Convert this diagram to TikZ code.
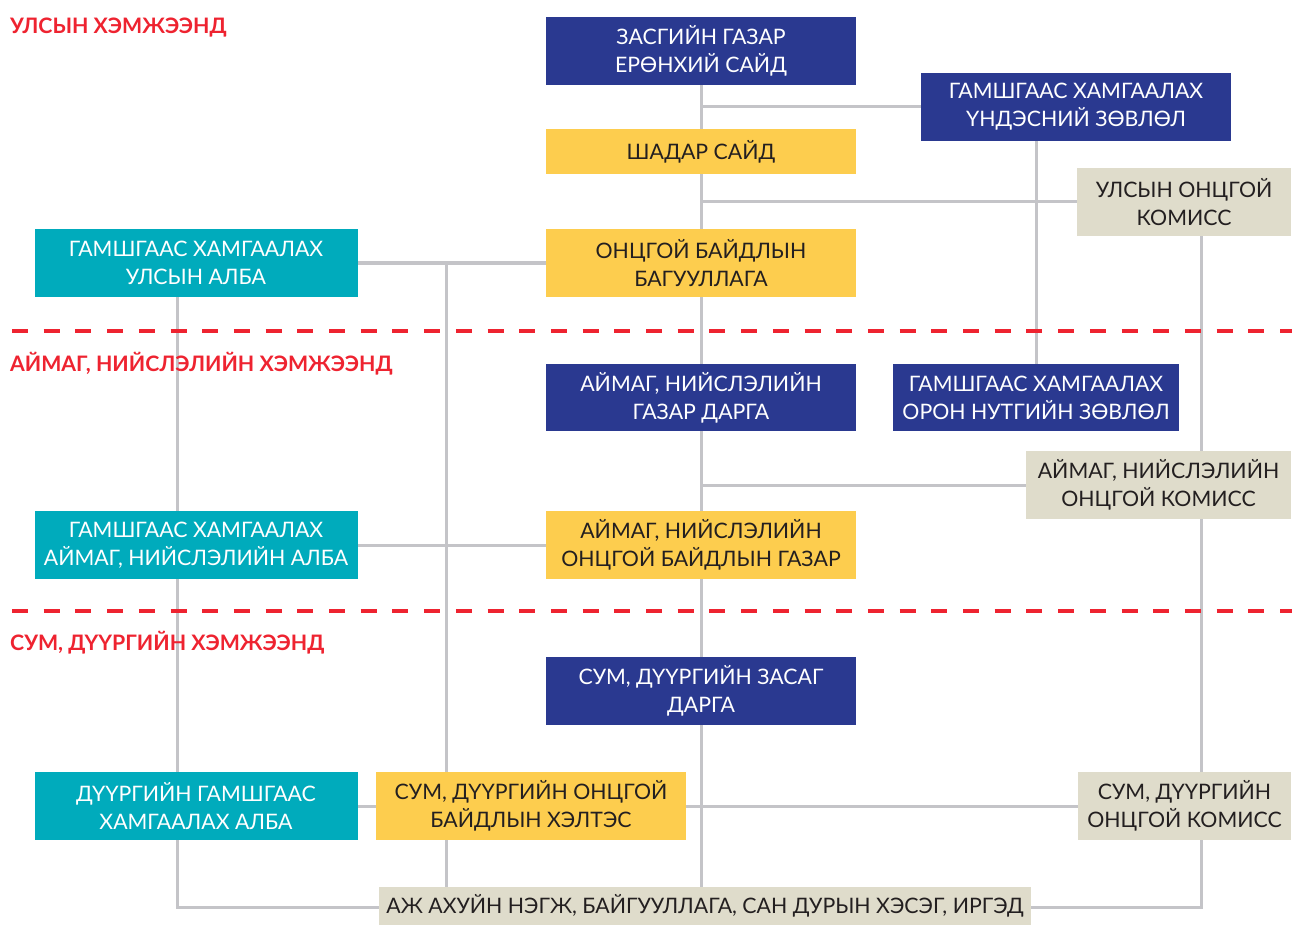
\documentclass[tikz,border=0pt]{standalone}
\usepackage{fontspec}
\setmainfont{Lato}
\usetikzlibrary{backgrounds}
\definecolor{navy}{HTML}{2A3990}
\definecolor{gold}{HTML}{FDCD4E}
\definecolor{teal}{HTML}{00ABBC}
\definecolor{sand}{HTML}{DFDCCB}
\definecolor{lvlred}{HTML}{EE2330}
\definecolor{wire}{HTML}{C4C4C8}
\definecolor{ink}{HTML}{231F20}
\begin{document}
\begin{tikzpicture}[x=1pt,y=-1pt,
  box/.style={rectangle,inner sep=0pt,align=center,
    font=\fontsize{21.3}{28}\selectfont},
  navybox/.style={box,fill=navy,text=white,minimum width=310,minimum height=68},
  goldbox/.style={box,fill=gold,text=ink,minimum width=310,minimum height=68},
  tealbox/.style={box,fill=teal,text=white,minimum width=323,minimum height=68},
  sandbox/.style={box,fill=sand,text=ink,minimum height=68},
  level/.style={anchor=base west,text=lvlred,inner sep=0pt,
    font=\fontsize{21.3}{24}\selectfont\bfseries},
  link/.style={draw=wire,line width=3pt},
  split/.style={draw=lvlred,line width=4pt,dash pattern=on 16pt off 15.7pt}]
\useasboundingbox (0,0) rectangle (1292,925);

% levels
\node[level] (lvlnat) at (10,33.5) {УЛСЫН ХЭМЖЭЭНД};
\node[level] (lvlaim) at (10,371.5) {АЙМАГ, НИЙСЛЭЛИЙН ХЭМЖЭЭНД};
\node[level] (lvlsum) at (10,650.5) {СУМ, ДҮҮРГИЙН ХЭМЖЭЭНД};
\draw[split] (12,331) -- (1292,331);
\draw[split] (12,611) -- (1292,611);

% national
\node[navybox] (pm) at (701,51) {ЗАСГИЙН ГАЗАР\\ЕРӨНХИЙ САЙД};
\node[navybox] (natcouncil) at (1076,107) {ГАМШГААС ХАМГААЛАХ\\ҮНДЭСНИЙ ЗӨВЛӨЛ};
\node[goldbox,minimum height=45] (deputy) at (701,152) {ШАДАР САЙД};
\node[sandbox,minimum width=214] (natcom) at (1184,202) {УЛСЫН ОНЦГОЙ\\КОМИСС};
\node[tealbox] (natagency) at (196,263) {ГАМШГААС ХАМГААЛАХ\\УЛСЫН АЛБА};
\node[goldbox] (nema) at (701,263) {ОНЦГОЙ БАЙДЛЫН\\БАГУУЛЛАГА};

% aimag
\node[navybox,minimum height=67] (aimgov) at (701,397.5) {АЙМАГ, НИЙСЛЭЛИЙН\\ГАЗАР ДАРГА};
\node[navybox,minimum width=286,minimum height=67] (loccouncil) at (1036,397.5) {ГАМШГААС ХАМГААЛАХ\\ОРОН НУТГИЙН ЗӨВЛӨЛ};
\node[sandbox,minimum width=265] (aimcom) at (1158.5,485) {АЙМАГ, НИЙСЛЭЛИЙН\\ОНЦГОЙ КОМИСС};
\node[tealbox] (aimagency) at (196,545) {ГАМШГААС ХАМГААЛАХ\\АЙМАГ, НИЙСЛЭЛИЙН АЛБА};
\node[goldbox] (aimema) at (701,545) {АЙМАГ, НИЙСЛЭЛИЙН\\ОНЦГОЙ БАЙДЛЫН ГАЗАР};

% sum
\node[navybox] (sumgov) at (701,691) {СУМ, ДҮҮРГИЙН ЗАСАГ\\ДАРГА};
\node[tealbox] (sumagency) at (196,806) {ДҮҮРГИЙН ГАМШГААС\\ХАМГААЛАХ АЛБА};
\node[goldbox] (sumema) at (531,806) {СУМ, ДҮҮРГИЙН ОНЦГОЙ\\БАЙДЛЫН ХЭЛТЭС};
\node[sandbox,minimum width=213] (sumcom) at (1184.5,806) {СУМ, ДҮҮРГИЙН\\ОНЦГОЙ КОМИСС};
\node[sandbox,minimum width=652,minimum height=38] (public) at (705,906) {АЖ АХУЙН НЭГЖ, БАЙГУУЛЛАГА, САН ДУРЫН ХЭСЭГ, ИРГЭД};

\coordinate (ema) at (446,263);
\coordinate (agencycorner) at (177,907);
\coordinate (comcorner) at (1201,907);

\begin{scope}[on background layer]
\draw[link] (pm.south) -- (pm.south |- public.north);
\draw[link] (pm.south |- natcouncil.west) -- (natcouncil.west);
\draw[link] (pm.south |- natcom.west) -- (natcom.west);
\draw[link] (natagency.east) -- (nema.west);
\draw[link] (ema) -- (ema |- public.north);
\draw[link] (loccouncil.north |- natcouncil.south) -- (loccouncil.north);
\draw[link] (pm.south |- aimcom.west) -- (aimcom.west);
\draw[link] (aimagency.east) -- (aimema.west);
\draw[link] (sumagency.east) -- (sumema.west);
\draw[link] (sumema.east) -- (sumcom.west);
\draw[link] (agencycorner |- natagency.south) -- (agencycorner) -- (agencycorner -| public.west);
\draw[link] (comcorner |- natcom.south) -- (comcorner) -- (comcorner -| public.east);
\end{scope}
\end{tikzpicture}
\end{document}
